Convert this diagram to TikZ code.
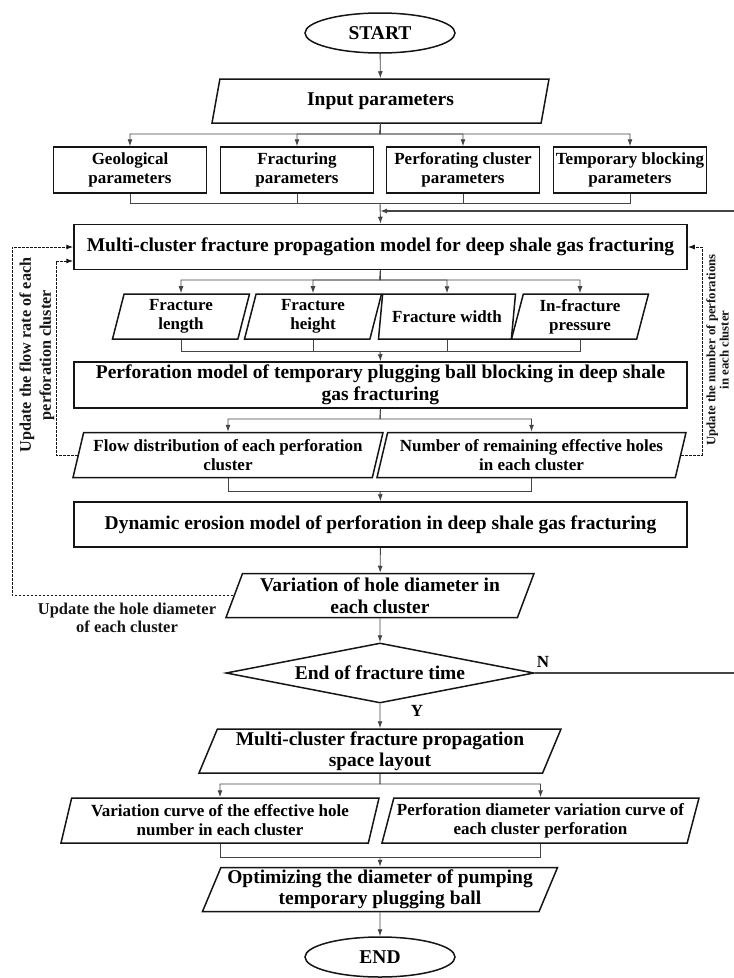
\documentclass[tikz,border=0pt]{standalone}
\usepackage{fontspec}
\setmainfont{Liberation Serif}
\usetikzlibrary{shapes.geometric,arrows.meta}
\definecolor{ink}{HTML}{151515}
\definecolor{wire}{HTML}{454545}
\newcommand{\fbig}{\fontsize{19.5}{21.5}\selectfont\bfseries}
\newcommand{\fmid}{\fontsize{17}{18.8}\selectfont\bfseries}
\newcommand{\fsml}{\fontsize{16.5}{18}\selectfont\bfseries}
\newcommand{\ftiny}{\fontsize{12.8}{13.2}\selectfont\bfseries}

\begin{document}
\begin{tikzpicture}[
    x=1pt, y=-1pt,
    term/.style={
        ellipse, draw=ink, line width=1.5pt, inner sep=0pt,
        minimum width=150pt, minimum height=40pt, font=\fbig,
    },
    proc/.style={
        rectangle, draw=ink, line width=1.5pt, inner sep=0pt,
        minimum width=#1, minimum height=45pt, align=center, font=\fbig,
    },
    param/.style={
        rectangle, draw=ink, line width=1.5pt, inner sep=0pt,
        minimum width=153pt, minimum height=46pt, align=center, font=\fmid,
    },
    io/.style={
        trapezium, trapezium left angle=65, trapezium right angle=115,
        trapezium stretches body, draw=ink, line width=1.5pt, inner sep=0pt,
        minimum width=#1, minimum height=44pt, align=center, font=\fbig,
    },
    sio/.style={
        trapezium, trapezium left angle=71, trapezium right angle=109,
        trapezium stretches body, draw=ink, line width=1.5pt, inner sep=0pt,
        minimum width=#1, minimum height=45pt, align=center, font=\fmid,
    },
    dec/.style={
        diamond, draw=ink, line width=1.5pt, inner sep=0pt, aspect=5,
        minimum width=308pt, minimum height=60pt, font=\fbig,
    },
    arr/.style={-{Latex[length=7pt,width=5pt]}, line width=0.9pt, color=wire},
    line/.style={line width=0.9pt, color=wire},
    fb/.style={-{Latex[length=7pt,width=5pt]}, line width=1pt, color=ink,
        dash pattern=on 2.5pt off 1.5pt},
    lbl/.style={font=\fsml, text=ink, align=center},
]
\useasboundingbox (0,0) rectangle (734,978);

% ════════════════════════════════════════
% Start and inputs
% ════════════════════════════════════════
\node[term] (start) at (380,33) {START};
\node[io=337pt] (inp) at (380.5,101) {Input parameters};

\node[param] (geo) at (130,170) {Geological\\parameters};
\node[param] (frp) at (297,170) {Fracturing\\parameters};
\node[param] (pcp) at (463,170) {Perforating cluster\\parameters};
\node[param] (tbp) at (630,170) {Temporary blocking\\parameters};

\coordinate (s1) at (380,134);
\coordinate (m1) at (380,203);
\coordinate (nin) at (380,211);

\draw[arr] (start) -- (inp);
\foreach \p in {geo,frp,pcp,tbp} {
    \draw[arr] (inp.south) -- (s1) -| (\p.north);
    \draw[line] (\p.south) |- (m1);
}

% ════════════════════════════════════════
% Fracture propagation model
% ════════════════════════════════════════
\node[proc=613pt] (mcf) at (380.5,247) {Multi-cluster fracture propagation model for deep shale gas fracturing};
\draw[arr] (m1) -- (mcf.north);

\node[sio=137pt] (flen) at (181,316.5) {Fracture\\length};
\node[sio=137pt] (fhgt) at (313,316.5) {Fracture\\height};
\node[sio=137pt] (fwid) at (447,316.5) {Fracture width};
\node[sio=137pt] (fprs) at (580,316.5) {In-fracture\\pressure};

\coordinate (s2) at (380,280);
\coordinate (m2) at (380,351);
\foreach \f in {flen,fhgt,fwid,fprs} {
    \draw[arr] (mcf.south) -- (s2) -| (\f.north);
    \draw[line] (\f.south) |- (m2);
}

% ════════════════════════════════════════
% Plugging ball model
% ════════════════════════════════════════
\node[proc=613pt, minimum height=46pt] (pbm) at (380.5,385) {Perforation model of temporary plugging ball blocking in deep shale\\gas fracturing};
\draw[arr] (m2) -- (pbm.north);

\node[sio=310pt] (flow) at (228,455) {Flow distribution of each perforation\\cluster};
\node[sio=309pt] (hole) at (531.5,455) {Number of remaining effective holes\\in each cluster};

\coordinate (s3) at (380,419);
\coordinate (m3) at (380,491);
\foreach \q in {flow,hole} {
    \draw[arr] (pbm.south) -- (s3) -| (\q.north);
    \draw[line] (\q.south) |- (m3);
}

% ════════════════════════════════════════
% Erosion model and time check
% ════════════════════════════════════════
\node[proc=613pt] (dem) at (380.5,524.5) {Dynamic erosion model of perforation in deep shale gas fracturing};
\draw[arr] (m3) -- (dem.north);

\node[io=308pt] (vhd) at (380,595.5) {Variation of hole diameter in\\each cluster};
\node[dec] (eft) at (380,673) {End of fracture time};

\draw[arr] (dem) -- (vhd);
\draw[arr] (vhd) -- (eft);

% N branch loops back above the model
\coordinate (nr) at (745,673);
\coordinate (nt) at (745,211);
\draw[arr, line width=1.4pt] (eft.east) -- (nr) -- (nt) -- (nin);
\node[font=\fmid] (nlab) at (543,662) {N};
\node[font=\fmid] (ylab) at (417,711) {Y};

% ════════════════════════════════════════
% Dashed updates
% ════════════════════════════════════════
\coordinate (lin) at (56,261);
\coordinate (lout) at (12,247);
\coordinate (rin) at (702,247);

\draw[fb] (flow.west) -| (lin) -- (lin -| mcf.west);
\draw[fb] (vhd.west) -| (lout) -- (mcf.west);
\draw[fb] (hole.east) -| (rin) -- (mcf.east);

\node[lbl, rotate=90, font=\fontsize{16.2}{20}\selectfont\bfseries] (lfb) at (37,355) {Update the flow rate of each\\perforation cluster};
\node[lbl, rotate=90, font=\ftiny] (rfb) at (717.5,350) {Update the number of perforations\\in each cluster};
\node[lbl] (hfb) at (127,618) {Update the hole diameter\\of each cluster};

% ════════════════════════════════════════
% Layout and optimization
% ════════════════════════════════════════
\node[io=362pt] (lay) at (380,751) {Multi-cluster fracture propagation\\space layout};
\draw[arr] (eft.south) -- (lay.north);

\node[sio=318pt] (vce) at (220,820.5) {Variation curve of the effective hole\\number in each cluster};
\node[sio=317pt] (vcp) at (540.5,820.5) {Perforation diameter variation curve of\\each cluster perforation};

\coordinate (s4) at (380,784);
\coordinate (m4) at (380,857);
\foreach \c in {vce,vcp} {
    \draw[arr] (lay.south) -- (s4) -| (\c.north);
    \draw[line] (\c.south) |- (m4);
}

\node[io=355pt] (opt) at (380,889.5) {Optimizing the diameter of pumping\\temporary plugging ball};
\node[term] (end) at (380,957) {END};

\draw[arr] (m4) -- (opt.north);
\draw[arr] (opt) -- (end);

\end{tikzpicture}
\end{document}
